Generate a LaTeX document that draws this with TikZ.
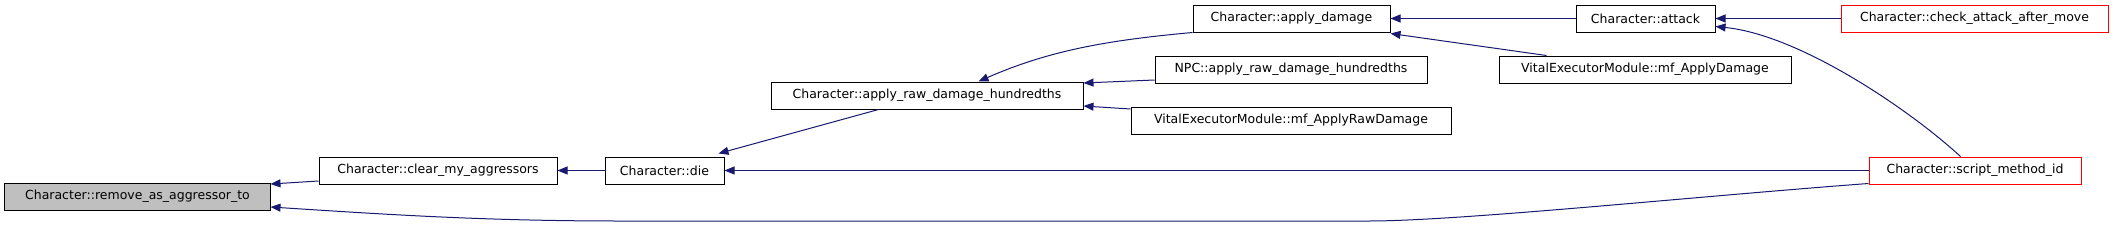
\documentclass[tikz,border=0pt]{standalone}
\usepackage{fontspec}
\setmainfont{DejaVu Sans}
\usetikzlibrary{arrows.meta,calc}
\definecolor{edgeblue}{HTML}{191970}
\definecolor{boxgrey}{HTML}{BFBFBF}
\begin{document}
\begin{tikzpicture}[x=1bp,y=-1bp,
  fn/.style={draw=black,line width=1bp,minimum height=27bp,inner sep=0pt,
    font=\fontsize{12.5bp}{15bp}\selectfont,anchor=center},
  redfn/.style={fn,draw=red},
  call/.style={draw=edgeblue,line width=1bp,-{Triangle[length=10bp,width=8bp]}}]
\useasboundingbox (0,0) rectangle (2115,227);
\fill[white] (0,0) rectangle (2115,227);
% nodes
\node[fn,fill=boxgrey,minimum width=265bp] (remove) at (137.5,196.5) {Character::remove\_as\_aggressor\_to};
\node[fn,minimum width=238bp] (clear) at (438,170.5) {Character::clear\_my\_aggressors};
\node[fn,minimum width=119bp] (die) at (664.5,170.5) {Character::die};
\node[fn,minimum width=312bp] (raw) at (927,95.5) {Character::apply\_raw\_damage\_hundredths};
\node[fn,minimum width=197bp] (dmg) at (1291.5,18.5) {Character::apply\_damage};
\node[fn,minimum width=272bp] (npc) at (1291,69.5) {NPC::apply\_raw\_damage\_hundredths};
\node[fn,minimum width=320bp] (vemraw) at (1291,120.5) {VitalExecutorModule::mf\_ApplyRawDamage};
\node[fn,minimum width=139bp] (attack) at (1645.5,18.5) {Character::attack};
\node[fn,minimum width=292bp] (vemdmg) at (1645,69.5) {VitalExecutorModule::mf\_ApplyDamage};
\node[redfn,minimum width=267bp] (check) at (1974.5,18.5) {Character::check\_attack\_after\_move};
\node[redfn,minimum width=212bp] (script) at (1975,170.5) {Character::script\_method\_id};
% edges
\draw[call] ($(clear.west)+(0,10.5)$) -- ($(remove.east)+(0,-12.5)$);
\draw[call] ($(script.south west)+(0,-1)$) .. controls (1700,196) and (1460,221) .. (1369,221)
  -- (620,221) .. controls (480,221) and (380,214) .. ($(remove.east)+(0,10.5)$);
\draw[call] (die.west) -- (clear.east);
\draw[call] ($(raw.south west)+(108,0)$) -- ($(die.north east)+(-6,-3)$);
\draw[call] (dmg.south west) .. controls (1110,40) and (1050,50) .. ($(raw.north west)+(208,0)$);
\draw[call] ($(npc.west)+(0,10.5)$) -- ($(raw.east)+(0,-12.5)$);
\draw[call] ($(vemraw.west)+(0,-11.5)$) -- ($(raw.east)+(0,10.5)$);
\draw[call] (attack.west) -- (dmg.east);
\draw[call] ($(vemdmg.north west)+(48,0)$) -- ($(dmg.south east)+(0,1)$);
\draw[call] (check.west) -- (attack.east);
\draw[call] ($(script.north west)+(92,0)$) .. controls (1910,110) and (1800,35) .. ($(attack.east)+(0,8)$);
\draw[call] (script.west) -- (die.east);
\end{tikzpicture}
\end{document}
